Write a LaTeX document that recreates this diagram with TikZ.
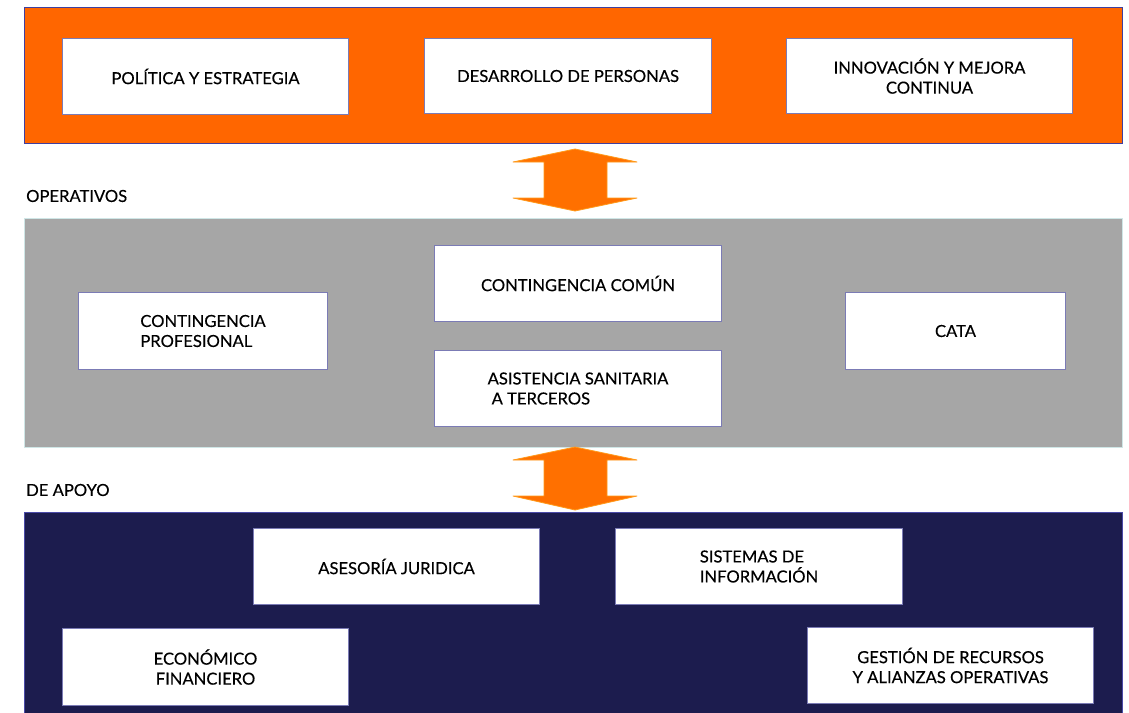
\documentclass[tikz,border=0pt]{standalone}
\usepackage{fontspec}
\setmainfont{Lato}[FakeBold=0.35]
\usetikzlibrary{calc}
\definecolor{bandorange}{HTML}{FF6600}
\definecolor{bandgray}{HTML}{A6A6A6}
\definecolor{bandnavy}{HTML}{1C1C4E}
\definecolor{boxedge}{HTML}{7B7BB5}
\definecolor{arrowfill}{HTML}{FF7000}
\definecolor{arrowedge}{HTML}{FF9A1A}
\definecolor{topedge}{HTML}{3F3F9F}
\definecolor{midedge}{HTML}{CFE6E6}
\definecolor{botedge}{HTML}{4A4AA8}
\tikzset{
  band/.style={anchor=north west, line width=1pt, inner sep=0pt},
  wbox/.style={anchor=north west, draw=boxedge, fill=white, line width=1pt,
    inner sep=0pt, font=\fontsize{16.6}{20}\selectfont, text=black},
  lbl/.style={anchor=west, font=\fontsize{16.6}{20}\selectfont, inner sep=0pt},
  bigarrow/.style={fill=arrowfill, draw=arrowedge, line width=0.8pt, line join=round}
}
\begin{document}
\begin{tikzpicture}[x=1pt,y=-1pt]
\useasboundingbox (0,0) rectangle (1129,712);
\fill[white] (0,0) rectangle (1129,712);
% bands
\node[band, draw=topedge, fill=bandorange, minimum width=1098pt, minimum height=136pt] (top) at (24,7) {};
\node[band, draw=midedge, fill=bandgray, minimum width=1098pt, minimum height=229pt] (mid) at (24,218) {};
\node[band, draw=botedge, fill=bandnavy, minimum width=1098pt, minimum height=205pt] (bot) at (24,512) {};
% labels
\node[lbl] (lop) at (26,196) {OPERATIVOS};
\node[lbl] (lap) at (26,490) {DE APOYO};
% top boxes
\node[wbox, minimum width=286pt, minimum height=76pt, align=center] (pe) at (62,38) {POLÍTICA Y ESTRATEGIA};
\node[wbox, minimum width=287pt, minimum height=75pt, align=center] (dp) at (424,38) {DESARROLLO DE PERSONAS};
\node[wbox, minimum width=286pt, minimum height=75pt, align=center] (im) at (786,38) {INNOVACIÓN Y MEJORA\\CONTINUA};
% middle boxes
\node[wbox, minimum width=249pt, minimum height=77pt, align=left] (cp) at (78,292) {CONTINGENCIA\\PROFESIONAL};
\node[wbox, minimum width=287pt, minimum height=76pt, align=center] (cc) at (434,245) {CONTINGENCIA COMÚN};
\node[wbox, minimum width=287pt, minimum height=76pt, align=left] (as) at (434,350) {ASISTENCIA SANITARIA\\\hspace*{4pt}A TERCEROS};
\node[wbox, minimum width=220pt, minimum height=77pt, align=center] (ca) at (845,292) {CATA};
% bottom boxes
\node[wbox, minimum width=286pt, minimum height=76pt, align=center] (aj) at (253,528) {ASESORÍA JURIDICA};
\node[wbox, minimum width=287pt, minimum height=76pt, align=left] (si) at (615,528) {SISTEMAS DE\\INFORMACIÓN};
\node[wbox, minimum width=286pt, minimum height=77pt, align=center] (ef) at (62,628) {ECONÓMICO\\FINANCIERO};
\node[wbox, minimum width=286pt, minimum height=76pt, align=center] (gr) at (807,627) {GESTIÓN DE RECURSOS\\Y ALIANZAS OPERATIVAS};
% double arrows
\draw[bigarrow] (575,149) -- (637,162) -- (607,162) -- (607,198) -- (637,198) -- (575,211)
  -- (513,198) -- (544,198) -- (544,162) -- (513,162) -- cycle;
\draw[bigarrow] (575,447) -- (637,460) -- (607,460) -- (607,496) -- (637,496) -- (575,510)
  -- (513,496) -- (544,496) -- (544,460) -- (513,460) -- cycle;
\end{tikzpicture}
\end{document}
